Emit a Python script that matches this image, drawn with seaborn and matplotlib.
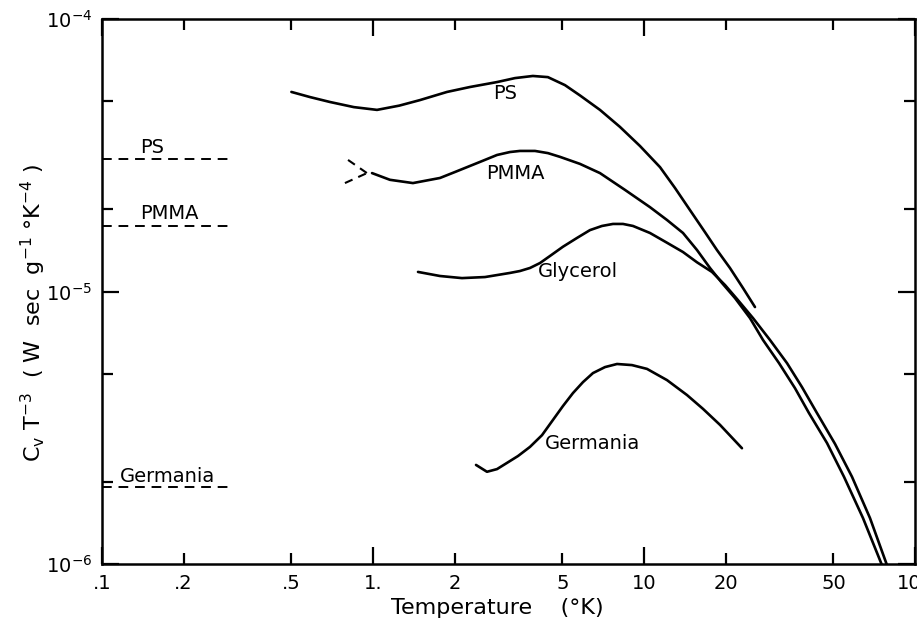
import matplotlib
matplotlib.use("Agg")
import numpy as np
import pandas as pd
import matplotlib.pyplot as plt
import seaborn as sns
from matplotlib.ticker import FixedLocator, FixedFormatter, NullFormatter

# Specific heat divided by T^3 (W sec g^-1 K^-4) against temperature (K)
ps_T = [0.5, 0.586, 0.694, 0.85, 1.035, 1.25, 1.49, 1.876, 2.280, 2.87, 3.342,
        3.89, 4.42, 5.11, 5.81, 6.88, 8.15, 9.665, 11.46, 13.01, 14.78, 16.80,
        18.59, 20.76, 23.19, 25.68]
ps_C = [5.40e-5, 5.17e-5, 4.96e-5, 4.75e-5, 4.64e-5, 4.81e-5, 5.04e-5, 5.40e-5,
        5.63e-5, 5.87e-5, 6.07e-5, 6.18e-5, 6.12e-5, 5.72e-5, 5.24e-5, 4.64e-5,
        4.02e-5, 3.42e-5, 2.86e-5, 2.40e-5, 1.99e-5, 1.65e-5, 1.42e-5, 1.22e-5,
        1.03e-5, 8.77e-6]

pmma_T = [0.992, 1.155, 1.404, 1.767, 2.007, 2.223, 2.525, 2.869, 3.203, 3.486,
          3.961, 4.423, 4.898, 5.805, 6.880, 8.509, 10.52, 12.16, 13.93, 15.69,
          17.52, 19.40, 21.67, 24.61, 27.49, 31.50, 36.07, 40.63, 47.35, 54.70,
          64.28, 75.55]
pmma_C = [2.72e-5, 2.57e-5, 2.50e-5, 2.61e-5, 2.745e-5, 2.86e-5, 3.01e-5,
          3.17e-5, 3.25e-5, 3.28e-5, 3.28e-5, 3.22e-5, 3.12e-5, 2.94e-5, 2.72e-5,
          2.36e-5, 2.04e-5, 1.83e-5, 1.64e-5, 1.42e-5, 1.22e-5, 1.075e-5, 9.46e-6,
          7.99e-6, 6.64e-6, 5.46e-6, 4.42e-6, 3.58e-6, 2.78e-6, 2.09e-6, 1.475e-6,
          0.99e-6]

# extrapolated low-temperature branches of PMMA (dashed)
pmma_up_T = [0.809, 0.950]
pmma_up_C = [3.04e-5, 2.72e-5]
pmma_lo_T = [0.788, 0.950]
pmma_lo_C = [2.50e-5, 2.72e-5]

gly_T = [1.466, 1.767, 2.130, 2.590, 3.203, 3.486, 3.796, 4.133, 4.499, 5.024,
         5.658, 6.319, 6.998, 7.686, 8.366, 9.108, 10.52, 12.16, 13.93, 15.69,
         17.82, 19.91, 22.04, 25.25, 29.17, 33.71, 38.28, 43.49, 50.68, 58.55,
         68.22, 78.84]
gly_C = [1.18e-5, 1.14e-5, 1.12e-5, 1.13e-5, 1.17e-5, 1.189e-5, 1.22e-5,
         1.272e-5, 1.35e-5, 1.46e-5, 1.572e-5, 1.68e-5, 1.74e-5, 1.77e-5,
         1.77e-5, 1.74e-5, 1.64e-5, 1.51e-5, 1.396e-5, 1.28e-5, 1.18e-5,
         1.056e-5, 9.39e-6, 7.99e-6, 6.64e-6, 5.46e-6, 4.46e-6, 3.58e-6, 2.76e-6,
         2.09e-6, 1.475e-6, 0.99e-6]

ger_T = [2.400, 2.634, 2.869, 3.123, 3.428, 3.796, 4.204, 4.616, 5.024, 5.470,
         5.955, 6.483, 7.180, 7.953, 9.030, 10.26, 12.16, 14.41, 16.51, 19.08,
         22.99]
ger_C = [2.31e-6, 2.18e-6, 2.23e-6, 2.35e-6, 2.49e-6, 2.69e-6, 2.97e-6, 3.38e-6,
         3.80e-6, 4.24e-6, 4.65e-6, 5.02e-6, 5.28e-6, 5.42e-6, 5.37e-6, 5.20e-6,
         4.73e-6, 4.17e-6, 3.71e-6, 3.24e-6, 2.66e-6]

# Debye values shown as dashed reference levels at the left
debye_names = ["PS", "PMMA", "Germania"]
debye_C = [3.06e-5, 1.74e-5, 1.92e-6]
debye_T_range = [0.1, 0.3]

# text positions of the labels
curve_names = ["PS", "PMMA", "Glycerol", "Germania"]
curve_label_T = [3.07, 3.34, 5.71, 6.43]
curve_label_C = [5.35e-5, 2.72e-5, 1.18e-5, 2.78e-6]
debye_label_T = [0.153, 0.177, 0.175]
debye_label_C = [3.39e-5, 1.94e-5, 2.10e-6]

x_major = [0.1, 1, 10, 100]
x_major_labels = [".1", "1.", "10", "100"]
x_minor = [0.2, 0.5, 2, 5, 20, 50]
x_minor_labels = [".2", ".5", "2", "5", "20", "50"]
y_major = [1e-6, 1e-5, 1e-4]
y_major_labels = ["10$^{-6}$", "10$^{-5}$", "10$^{-4}$"]
y_minor = [2e-6, 5e-6, 2e-5, 5e-5]

sns.set_style("ticks")
plt.rcParams["font.family"] = ["DejaVu Sans"]
plt.rcParams["mathtext.default"] = "regular"
for key in ["text.color", "axes.labelcolor", "xtick.color", "ytick.color",
            "axes.edgecolor"]:
    plt.rcParams[key] = "black"

fig = plt.figure(figsize=(9.17, 6.36), dpi=100)
ax = fig.add_axes([0.1112, 0.1132, 0.8866, 0.8569])

frames = []
for name, T, C in [("PS", ps_T, ps_C), ("PMMA", pmma_T, pmma_C),
                   ("Glycerol", gly_T, gly_C), ("Germania", ger_T, ger_C)]:
    frames.append(pd.DataFrame({"T": T, "C": C, "sample": name}))
solid = pd.concat(frames, ignore_index=True)

sns.lineplot(data=solid, x="T", y="C", units="sample", estimator=None,
             sort=False, color="black", lw=1.9, ax=ax, legend=False,
             solid_joinstyle="round", solid_capstyle="round")

for T, C in [(pmma_up_T, pmma_up_C), (pmma_lo_T, pmma_lo_C)]:
    sns.lineplot(x=T, y=C, sort=False, color="black", lw=1.5,
                 linestyle=(0, (4, 3)), ax=ax, legend=False)

for c in debye_C:
    sns.lineplot(x=debye_T_range, y=[c, c], sort=False, color="black", lw=1.4,
                 linestyle=(0, (5, 3.5)), ax=ax, legend=False)

for name, t, c in zip(curve_names, curve_label_T, curve_label_C):
    ax.text(t, c, name, ha="center", va="center", fontsize=14)
for name, t, c in zip(debye_names, debye_label_T, debye_label_C):
    ax.text(t, c, name, ha="center", va="center", fontsize=14)

ax.set_xscale("log")
ax.set_yscale("log")
ax.set_xlim(0.1, 100)
ax.set_ylim(1e-6, 1e-4)

ax.xaxis.set_major_locator(FixedLocator(x_major))
ax.xaxis.set_major_formatter(FixedFormatter(x_major_labels))
ax.xaxis.set_minor_locator(FixedLocator(x_minor))
ax.xaxis.set_minor_formatter(FixedFormatter(x_minor_labels))
ax.yaxis.set_major_locator(FixedLocator(y_major))
ax.yaxis.set_major_formatter(FixedFormatter(y_major_labels))
ax.yaxis.set_minor_locator(FixedLocator(y_minor))
ax.yaxis.set_minor_formatter(NullFormatter())

ax.tick_params(which="both", direction="in", top=True, right=True,
               labelsize=14, color="black", labelcolor="black")
ax.tick_params(which="major", length=12, width=1.6, pad=7)
ax.tick_params(which="minor", length=8, width=1.6, pad=7)
for s in ax.spines.values():
    s.set_linewidth(1.8)
    s.set_color("black")
ax.grid(False)

ax.set_xlabel("Temperature    (°K)", fontsize=16)
ax.xaxis.set_label_coords(0.486, -0.062)
ax.set_ylabel("C$_v$ T$^{-3}$  ( W  sec  g$^{-1}$ °K$^{-4}$ )", fontsize=16)
ax.yaxis.set_label_coords(-0.066, 0.46)

fig.savefig("out.png", dpi=100, facecolor="white")
